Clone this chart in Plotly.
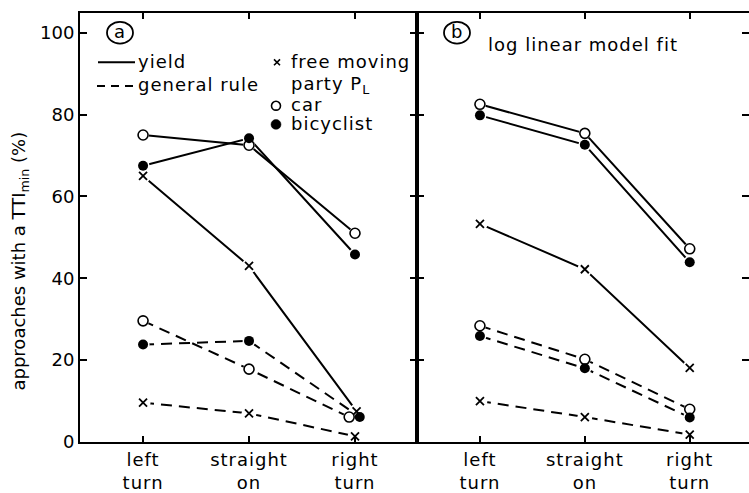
import plotly.graph_objects as go

# ---- data -------------------------------------------------------------
categories = ["left<br>turn", "straight<br>on", "right<br>turn"]
y_tick_values = [0, 20, 40, 60, 80, 100]

# (a) observed shares of approaches with a TTImin
obs_yield_car = [75, 72.5, 51]
obs_yield_bike = [67.5, 74.2, 45.8]
obs_yield_free = [65, 43, 7.5]
obs_rule_car = [29.6, 17.8, 6.1]
obs_rule_bike = [23.8, 24.7, 6.1]
obs_rule_free = [9.6, 7, 1.4]

# (b) log linear model fit
fit_yield_car = [82.5, 75.4, 47.2]
fit_yield_bike = [79.8, 72.6, 43.9]
fit_yield_free = [53.3, 42.2, 18.1]
fit_rule_car = [28.4, 20.2, 8]
fit_rule_bike = [25.9, 18, 6]
fit_rule_free = [10, 6.1, 1.8]

# ---- styling ----------------------------------------------------------
FONT = "DejaVu Sans"
W, H = 749, 493
L, R, T, B = 80, 0, 13, 45
SPLIT = (417 - L) / (W - L - R)   # panel divider in paper units
DASH = "11px,7px"

marker_style = {
    "car": dict(symbol="circle", size=10, color="white",
                line=dict(color="black", width=1.6)),
    "bike": dict(symbol="circle", size=10, color="black",
                 line=dict(color="black", width=0)),
    "free": dict(symbol="x-thin", size=8, color="black",
                 line=dict(color="black", width=1.8)),
}
halo_size = {"car": 12, "bike": 13, "free": 15}

# small sideways dodge so coinciding markers stay visible
dodge = {("a", "rule", "car"): [0, 0, -0.055],
         ("a", "rule", "bike"): [0, 0, 0.045],
         ("a", "yield", "free"): [0, 0, 0.015]}

panels = {
    "a": ("x", "y", [("yield", "car", obs_yield_car), ("yield", "bike", obs_yield_bike),
                     ("yield", "free", obs_yield_free), ("rule", "car", obs_rule_car),
                     ("rule", "bike", obs_rule_bike), ("rule", "free", obs_rule_free)]),
    "b": ("x2", "y2", [("yield", "car", fit_yield_car), ("yield", "bike", fit_yield_bike),
                       ("yield", "free", fit_yield_free), ("rule", "car", fit_rule_car),
                       ("rule", "bike", fit_rule_bike), ("rule", "free", fit_rule_free)]),
}

fig = go.Figure()


def xpos(panel, kind, who):
    off = dodge.get((panel, kind, who), [0, 0, 0])
    return [i + o for i, o in enumerate(off)]


# lines first, then white halos that open small gaps, then the symbols
for panel, (xa, ya, series) in panels.items():
    for kind, who, vals in series:
        fig.add_trace(go.Scatter(
            x=xpos(panel, kind, who), y=vals, xaxis=xa, yaxis=ya, mode="lines",
            line=dict(color="black", width=2,
                      dash="solid" if kind == "yield" else DASH),
            hoverinfo="skip", showlegend=False))
for panel, (xa, ya, series) in panels.items():
    for kind, who, vals in series:
        fig.add_trace(go.Scatter(
            x=xpos(panel, kind, who), y=vals, xaxis=xa, yaxis=ya, mode="markers",
            marker=dict(symbol="circle", size=halo_size[who], color="white"),
            hoverinfo="skip", showlegend=False))
for panel, (xa, ya, series) in panels.items():
    for kind, who, vals in series:
        fig.add_trace(go.Scatter(
            x=xpos(panel, kind, who), y=vals, xaxis=xa, yaxis=ya, mode="markers",
            marker=marker_style[who], showlegend=False,
            name=f"{kind} {who}"))

tick_font = dict(family=FONT, size=18, color="black")
SPAN = '<span style="letter-spacing:1px">'


def spaced(s):
    return SPAN + s.replace("<br>", "</span><br>" + SPAN) + "</span>"


def sub(s):
    return f'<sub><span style="color:black">{s}</span></sub>'


xcommon = dict(tickmode="array", tickvals=[0, 1, 2],
               ticktext=[spaced(c) for c in categories],
               ticks="inside", ticklen=6, tickwidth=2, tickcolor="black",
               showline=True, linewidth=2, linecolor="black", mirror="ticks",
               showgrid=False, zeroline=False, tickfont=tick_font, fixedrange=True)
ycommon = dict(range=[0, 104.8], tickmode="array", tickvals=y_tick_values,
               ticks="inside", ticklen=7, tickwidth=2, tickcolor="black",
               showline=True, linewidth=2, linecolor="black",
               showgrid=False, zeroline=False, tickfont=tick_font, fixedrange=True)

fig.update_layout(
    width=W, height=H,
    margin=dict(l=L, r=R, t=T, b=B, pad=0),
    paper_bgcolor="white", plot_bgcolor="white",
    font=dict(family=FONT, size=18, color="black"),
    xaxis=dict(domain=[0, SPLIT], range=[-0.595, 2.585], anchor="y", **xcommon),
    xaxis2=dict(domain=[SPLIT, 1], range=[-0.6, 2.565], anchor="y2", **xcommon),
    yaxis=dict(domain=[0, 1], anchor="x", mirror="ticks", **ycommon),
    yaxis2=dict(domain=[0, 1], anchor="x2", matches="y", showticklabels=False,
                **ycommon),
    yaxis3=dict(overlaying="y2", anchor="x2", side="right", matches="y",
                range=[0, 104.8], tickmode="array", tickvals=y_tick_values,
                ticks="inside", ticklen=7, tickwidth=2, tickcolor="black",
                showline=False, showgrid=False, zeroline=False,
                showticklabels=False, fixedrange=True),
)
# keep the right-hand axis alive with an invisible trace
fig.add_trace(go.Scatter(x=[None], y=[None], xaxis="x2", yaxis="y3",
                         showlegend=False, hoverinfo="skip"))


# ---- text and key, placed in pixel terms -----------------------------
def px(x):
    return (x - L) / (W - L - R)


def py(y):
    return (H - B - y) / (H - B - T)


def label(text, x, y, size=18, xanchor="left", **kw):
    fig.add_annotation(text=spaced(text), x=px(x), y=py(y), xref="paper", yref="paper",
                       xanchor=xanchor, yanchor="middle", showarrow=False,
                       font=dict(family=FONT, size=size, color="black"), **kw)


def pline(x0, x1, y, dash="solid"):
    fig.add_shape(type="line", xref="paper", yref="paper",
                  x0=px(x0), x1=px(x1), y0=py(y), y1=py(y),
                  line=dict(color="black", width=2, dash=dash))


def pcircle(cx, cy, r, fill, width=1.6, ry=None):
    ry = r if ry is None else ry
    fig.add_shape(type="circle", xref="paper", yref="paper",
                  x0=px(cx - r), x1=px(cx + r), y0=py(cy + ry), y1=py(cy - ry),
                  fillcolor=fill, line=dict(color="black", width=width))


# circled panel letters
pcircle(120, 33, 13, "white", width=1.8, ry=11)
label("a", 120, 32, xanchor="center")
pcircle(457, 33, 13, "white", width=1.8, ry=11)
label("b", 457, 32, xanchor="center")
label("log linear model fit", 486, 45)

# key: line styles
pline(98, 135, 63)
label("yield", 136, 62)
pline(97, 135, 87, dash="8px,6px")
label("general rule", 136, 86)

# key: symbols
fig.add_shape(type="line", xref="paper", yref="paper", x0=px(274), x1=px(280),
              y0=py(60), y1=py(66), line=dict(color="black", width=1.6))
fig.add_shape(type="line", xref="paper", yref="paper", x0=px(274), x1=px(280),
              y0=py(66), y1=py(60), line=dict(color="black", width=1.6))
label("free moving", 289, 62)
label("party P" + sub("L"), 289, 86)
pcircle(276, 107, 4.5, "white")
label("car", 289, 106)
pcircle(276, 126, 5, "black", width=0.5)
label("bicyclist", 289, 125)

# y-axis title
fig.add_annotation(text="approaches with a TTI" + sub("min") + " (%)",
                   x=px(20), y=py(265), xref="paper", yref="paper",
                   xanchor="center", yanchor="middle", textangle=-90,
                   showarrow=False, font=dict(family=FONT, size=18, color="black"))

fig.write_html("out.html", config={"displayModeBar": False})
